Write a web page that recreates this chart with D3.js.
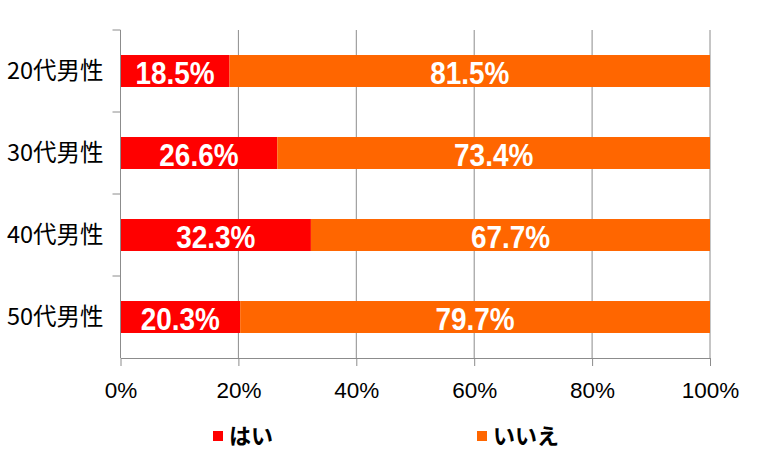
<!DOCTYPE html>
<meta charset="utf-8">
<style>
  body { margin: 0; background: #fff; }
  svg text { font-family: "Liberation Sans", Arial, sans-serif; }
  .cat text { font-family: "Noto Sans CJK JP", sans-serif; }
</style>
<body>
<div id="chart"></div>
<script src="https://cdn.jsdelivr.net/npm/d3@7"></script>
<script>
// data
const categories = ["20代男性", "30代男性", "40代男性", "50代男性"];
const yes = [18.5, 26.6, 32.3, 20.3];
const no = [81.5, 73.4, 67.7, 79.7];
const seriesNames = ["はい", "いいえ"];
const colors = ["#ff0000", "#ff6600"];
const ticks = [0, 20, 40, 60, 80, 100];

const width = 766, height = 468;
const margin = {top: 30, right: 56, bottom: 110, left: 120.5};
const w = width - margin.left - margin.right,
      h = height - margin.top - margin.bottom;

const svg = d3.select("#chart").append("svg")
    .attr("width", width).attr("height", height);
const g = svg.append("g").attr("transform", `translate(${margin.left},${margin.top})`);

const x = d3.scaleLinear().domain([0, 100]).range([0, w]);
const y = d3.scaleBand().domain(categories).range([0, h]).paddingInner(0.61).paddingOuter(0.305);
const yb = d3.scaleBand().domain(categories).range([0, h]);

// vertical grid lines
g.selectAll(".grid").data(ticks.slice(1)).join("line")
    .attr("x1", d => x(d)).attr("x2", d => x(d))
    .attr("y1", 0).attr("y2", h)
    .attr("stroke", "#8c8c8c").attr("stroke-width", 1);

// bars + labels
const rows = categories.map((c, i) => ({cat: c, vals: [yes[i], no[i]]}));
rows.forEach(r => {
  let x0 = 0;
  r.vals.forEach((v, j) => {
    g.append("rect")
      .attr("x", x(x0)).attr("y", y(r.cat))
      .attr("width", x(x0 + v) - x(x0)).attr("height", y.bandwidth())
      .attr("fill", colors[j]);
    const t = g.append("text")
      .attr("x", x(x0 + v / 2)).attr("y", y(r.cat) + y.bandwidth() - 2.5)
      .attr("text-anchor", "middle")
      .attr("fill", "#fff").attr("font-size", 31).attr("font-weight", "bold")
      .text(v.toFixed(1) + "%");
    // narrow the glyphs a little, like a condensed face
    t.attr("textLength", t.node().getComputedTextLength() * 0.9)
     .attr("lengthAdjust", "spacingAndGlyphs");
    x0 += v;
  });
});

// x axis
const xAxis = g.append("g").attr("transform", `translate(0,${h})`)
  .call(d3.axisBottom(x).tickValues(ticks).tickFormat(d => d + "%").tickSize(8).tickSizeOuter(0));
xAxis.select(".domain").attr("stroke", "#8c8c8c");
xAxis.selectAll(".tick line").attr("stroke", "#8c8c8c");
xAxis.selectAll("text").attr("font-size", 22.5).attr("fill", "#000")
    .attr("y", 40).attr("dy", 0);

// y axis
const yAxis = g.append("g").attr("class", "cat");
yAxis.append("line").attr("x1", 0).attr("x2", 0).attr("y1", 0).attr("y2", h).attr("stroke", "#8c8c8c");
yAxis.selectAll(".yt").data([0, 1, 2, 3]).join("line")
    .attr("x1", -8).attr("x2", 0)
    .attr("y1", i => yb(categories[i])).attr("y2", i => yb(categories[i]))
    .attr("stroke", "#8c8c8c");
yAxis.selectAll(".yl").data(categories).join("text")
    .attr("x", -17).attr("y", d => y(d) + y.bandwidth() / 2)
    .attr("dy", "0.36em").attr("text-anchor", "end")
    .attr("font-size", 23.5).attr("fill", "#000")
    .text(d => d);

// legend
const legendX = [213, 477];
const legend = svg.append("g").attr("class", "cat");
seriesNames.forEach((s, i) => {
  legend.append("rect").attr("x", legendX[i]).attr("y", 431).attr("width", 10).attr("height", 10).attr("fill", colors[i]);
  legend.append("text").attr("x", legendX[i] + 16).attr("y", 436).attr("dy", "0.38em")
    .attr("font-size", 22).attr("font-weight", "bold").attr("fill", "#000").text(s);
});
</script>
</body>
